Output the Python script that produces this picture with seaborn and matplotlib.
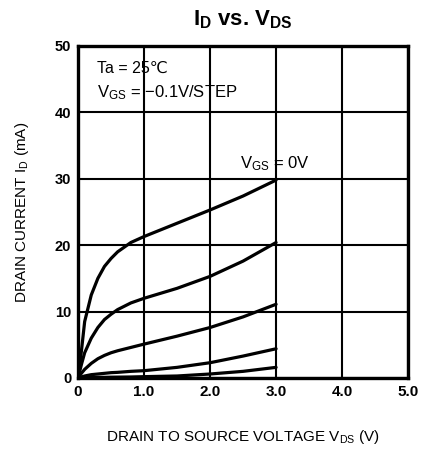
import numpy as np
import pandas as pd
import matplotlib
matplotlib.use("Agg")
import matplotlib.pyplot as plt
import seaborn as sns

# ---- data ----
vds = [0, 0.05, 0.1, 0.2, 0.3, 0.4, 0.5, 0.6, 0.8, 1.0, 1.5, 2.0, 2.5, 3.0]
id_vgs_0_0 = [0, 4.0, 8.5, 12.5, 15.0, 16.8, 18.0, 19.0, 20.4, 21.3, 23.3, 25.3, 27.4, 29.8]
id_vgs_m0_1 = [0, 2.0, 3.8, 6.0, 7.6, 8.8, 9.6, 10.3, 11.3, 12.0, 13.5, 15.3, 17.6, 20.4]
id_vgs_m0_2 = [0, 0.7, 1.3, 2.2, 2.9, 3.4, 3.8, 4.1, 4.6, 5.1, 6.3, 7.6, 9.2, 11.1]
id_vgs_m0_3 = [0, 0.15, 0.3, 0.5, 0.6, 0.7, 0.8, 0.85, 1.0, 1.1, 1.6, 2.3, 3.3, 4.4]
id_vgs_m0_4 = [0, 0.02, 0.05, 0.08, 0.1, 0.1, 0.12, 0.13, 0.15, 0.2, 0.3, 0.6, 1.0, 1.6]
vgs_labels = ["0V", "-0.1V", "-0.2V", "-0.3V", "-0.4V"]
x_ticks = [0, 1, 2, 3, 4, 5]
x_tick_labels = ["0", "1.0", "2.0", "3.0", "4.0", "5.0"]
y_ticks = [0, 10, 20, 30, 40, 50]

sns.set_style("white")
plt.rcParams["font.family"] = ["Liberation Sans", "DejaVu Sans"]
plt.rcParams["mathtext.fontset"] = "custom"
plt.rcParams["mathtext.rm"] = "Liberation Sans"
plt.rcParams["mathtext.it"] = "Liberation Sans"
plt.rcParams["mathtext.bf"] = "Liberation Sans:bold"
for k in ["text.color", "axes.labelcolor", "xtick.color", "ytick.color"]:
    plt.rcParams[k] = "black"

curves = [id_vgs_0_0, id_vgs_m0_1, id_vgs_m0_2, id_vgs_m0_3, id_vgs_m0_4]
df = pd.concat(
    [pd.DataFrame({"vds": vds, "id": c, "vgs": lab}) for c, lab in zip(curves, vgs_labels)],
    ignore_index=True,
)

fig = plt.figure(figsize=(4.22, 4.53), dpi=100)
ax = fig.add_axes([0.185, 0.1656, 0.782, 0.733])

sns.lineplot(data=df, x="vds", y="id", units="vgs", estimator=None,
             color="black", linewidth=2.3, ax=ax, legend=False)

ax.set_xlim(0, 5)
ax.set_ylim(0, 50)
ax.set_xticks(x_ticks)
ax.set_xticklabels(x_tick_labels, fontsize=11, fontweight="bold")
ax.set_yticks(y_ticks)
ax.set_yticklabels([str(v) for v in y_ticks], fontsize=10.5, fontweight="bold")
ax.tick_params(axis="y", length=0, pad=5)
ax.tick_params(axis="x", length=0, pad=5)
ax.grid(True, color="black", linewidth=1.5)
for s in ax.spines.values():
    s.set_color("black")
    s.set_linewidth(2.4)

ax.set_xlabel(r"DRAIN TO SOURCE VOLTAGE $\mathregular{V_{DS}}$ (V)", fontsize=11, labelpad=21)
ax.set_ylabel(r"DRAIN CURRENT $\mathregular{I_D}$ (mA)", fontsize=11, labelpad=17)
ax.set_title(r"$\mathbf{I_D}$ vs. $\mathbf{V_{DS}}$", fontsize=16, fontweight="bold", pad=15)

ax.text(0.28, 46.7, "Ta = 25℃", fontsize=11.5, va="center", ha="left")
ax.text(0.28, 43.0, r"$\mathregular{V_{GS}}$ = $-$0.1V/STEP", fontsize=12, va="center", ha="left")
ax.text(2.45, 32.2, r"$\mathregular{V_{GS}}$ = 0V", fontsize=12, va="center", ha="left")

fig.savefig("out.png", dpi=100)
